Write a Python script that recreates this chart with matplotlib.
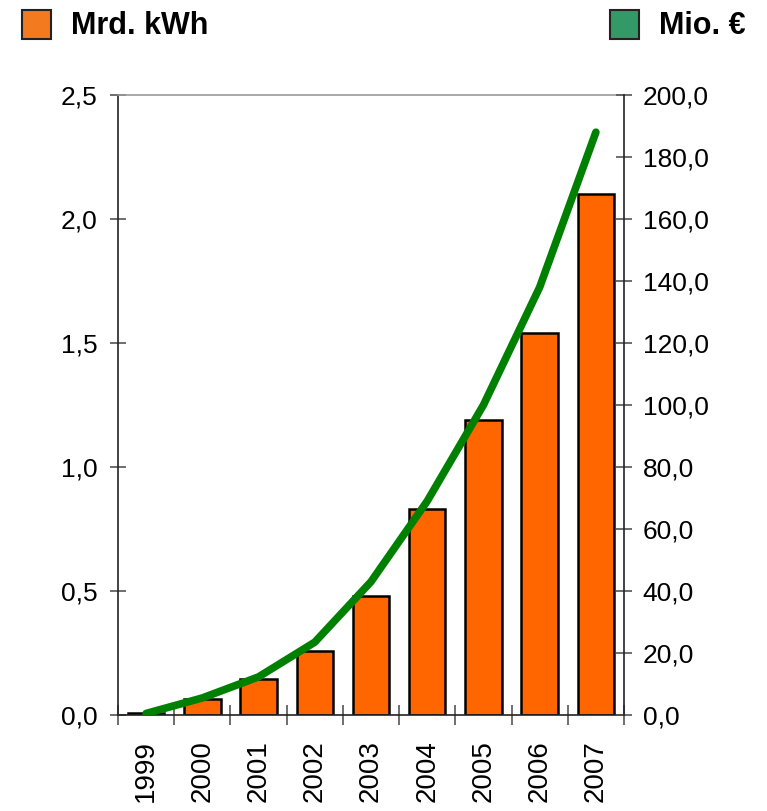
import matplotlib
matplotlib.use("Agg")
import matplotlib.pyplot as plt
import numpy as np
from matplotlib.patches import Rectangle

years = ["1999", "2000", "2001", "2002", "2003", "2004", "2005", "2006", "2007"]
mrd_kwh = [0.01, 0.065, 0.145, 0.26, 0.48, 0.83, 1.19, 1.54, 2.10]
mio_eur = [0.5, 5.5, 12.3, 23.5, 43.0, 69.0, 100.0, 138.0, 188.0]

left_ticks = [0.0, 0.5, 1.0, 1.5, 2.0, 2.5]
right_ticks = [0, 20, 40, 60, 80, 100, 120, 140, 160, 180, 200]

plt.rcParams['font.family'] = ['Liberation Sans', 'DejaVu Sans']

fig = plt.figure(figsize=(7.67, 8.11), dpi=100)
ax = fig.add_axes([118/767, 96/811, (624-118)/767, (715-95)/811])
x = np.arange(len(years))
ax.bar(x, mrd_kwh, width=0.65, color="#FF6600", edgecolor="black", linewidth=1.8, zorder=2)
ax.set_xlim(-0.5, len(years) - 0.5)
ax.set_ylim(0, 2.5)
ax.set_yticks(left_ticks)
ax.set_yticklabels([f"{v:.1f}".replace(".", ",") for v in left_ticks], fontsize=19)
ax.set_xticks(x)
ax.set_xticklabels(years, rotation=90, fontsize=20)
ax.tick_params(axis='x', length=0, pad=18)
ax.set_xticks(np.arange(-0.5, len(years), 1), minor=True)
ax.tick_params(axis='x', which='minor', direction='inout', length=14, width=1.2, color='#555555')
ax.tick_params(axis='y', direction='inout', length=11, width=1.2, color='#555555', pad=9)
for s in ['left', 'bottom']:
    ax.spines[s].set_linewidth(1.2)
    ax.spines[s].set_color('#222222')
ax.spines['top'].set_color('#999999')
ax.spines['top'].set_linewidth(1.2)
ax.spines['right'].set_visible(False)

ax2 = ax.twinx()
ax2.plot(x, mio_eur, color="#008000", linewidth=5.5, solid_capstyle='round', zorder=3)
ax2.set_ylim(0, 200)
ax2.set_yticks(right_ticks)
ax2.set_yticklabels([f"{v:.1f}".replace(".", ",") for v in right_ticks], fontsize=19)
ax2.tick_params(axis='y', direction='inout', length=11, width=1.2, color='#555555', pad=8)
ax2.spines['right'].set_linewidth(1.2)
ax2.spines['right'].set_color('#222222')
for s in ['left', 'top', 'bottom']:
    ax2.spines[s].set_visible(False)

# legend
fig.patches.append(Rectangle((22/767, 1 - 39/811), 29/767, 29/811, transform=fig.transFigure,
                             facecolor="#F47A20", edgecolor="#222222", linewidth=1.5))
fig.text(71/767, 1 - 26/811, "Mrd. kWh", fontsize=22, fontweight='bold', va='center', ha='left')
fig.patches.append(Rectangle((610/767, 1 - 39/811), 29/767, 29/811, transform=fig.transFigure,
                             facecolor="#339966", edgecolor="#222222", linewidth=1.5))
fig.text(659/767, 1 - 26/811, "Mio. €", fontsize=22, fontweight='bold', va='center', ha='left')

fig.savefig("out.png", dpi=100)
